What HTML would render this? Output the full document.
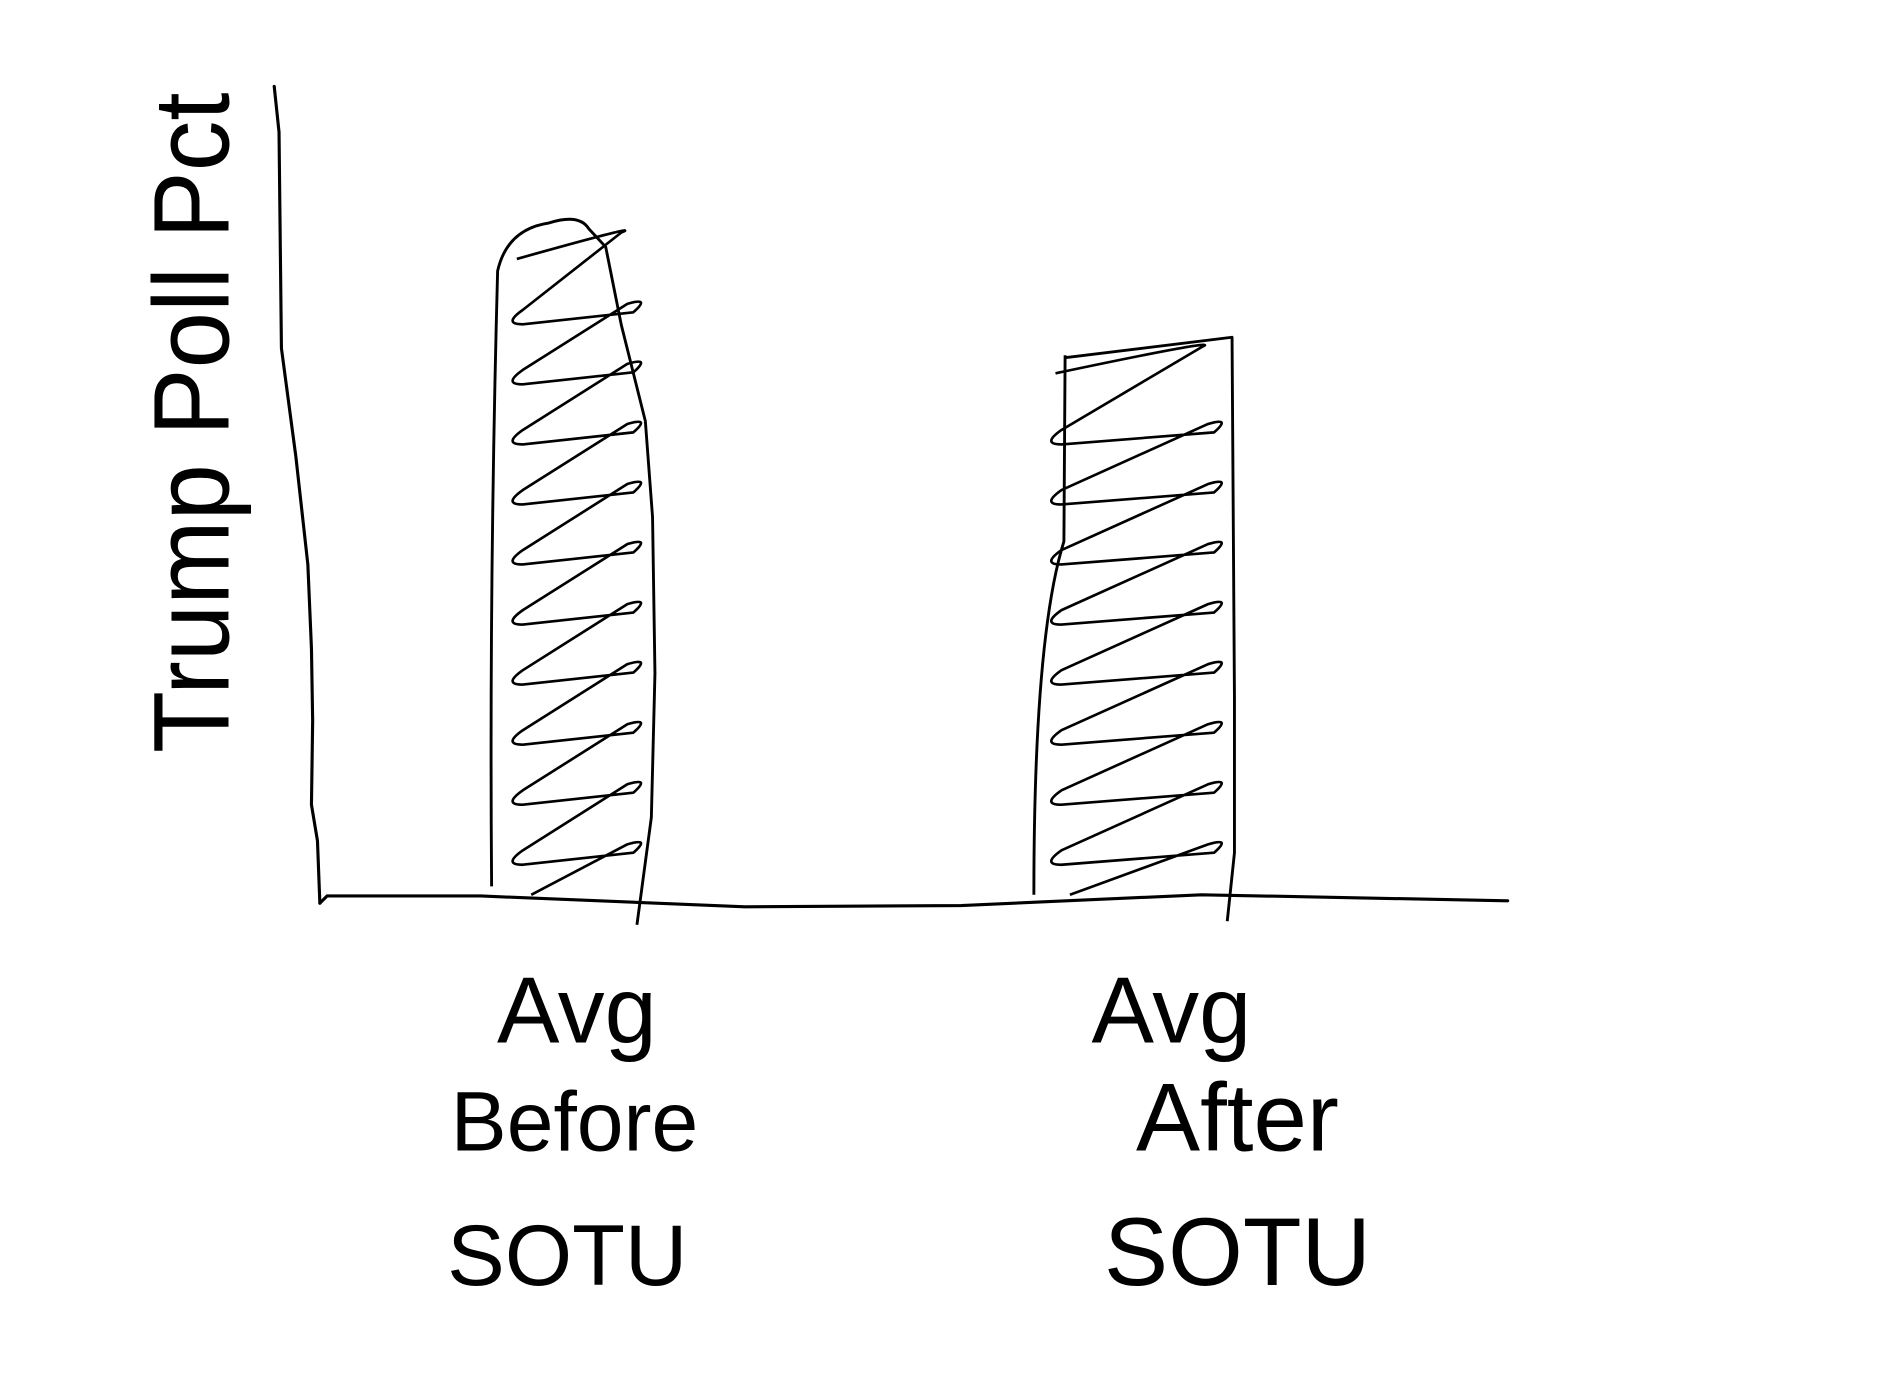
<!DOCTYPE html>
<html><head><meta charset="utf-8"><style>
html,body{margin:0;padding:0;background:#fff;}
svg{display:block;}
text{font-family:"Liberation Sans",sans-serif;fill:#000;stroke:none;font-weight:normal;}
</style></head><body>
<svg id="chart" width="1884" height="1386" viewBox="0 0 1568 1154" xmlns="http://www.w3.org/2000/svg">
<g id="axes" fill="none" stroke="#000" stroke-width="2.6" stroke-linecap="round">
<path d="M228,72 L232,110 L234,290 L246,380 L256,470 L259,540 L260,600 L259,670 L264,700 L266,752"/>
<path d="M266,752 L272,746 L400,746 L620,755 L800,754 L1000,745 L1255,750"/>
</g>
<g id="bars"></g>
<text transform="translate(190,352) rotate(-90)" text-anchor="middle" textLength="550" lengthAdjust="spacingAndGlyphs" font-size="90">Trump Poll Pct</text>
<g id="xlabels"></g>
</svg>
<script>
const categories = ["Avg Before SOTU", "Avg After SOTU"];
const labelLines = [["Avg","Before","SOTU"],["Avg","After","SOTU"]];
const values = [83, 69];

const NS = "http://www.w3.org/2000/svg";
const baseY = 750, topY = 70, maxV = 100;
function yScale(v){ return baseY - (v/maxV)*(baseY-topY); }
const xCenters = [477, 943];
const barWs = [130, 165];
function xScale(i){ return xCenters[i]; }
const labelX = [[480,478,472],[975,1030,1030]];
const labelFs = [[78,70,72],[78,80,80]];

const barsG = document.getElementById('bars');
const labelsG = document.getElementById('xlabels');
values.forEach((v,i)=>{
  const cx = xScale(i), yt = yScale(v), barW = barWs[i];
  const l = cx - barW/2, r = cx + barW/2;
  const g = document.createElementNS(NS,'g');
  
  
  const outline = document.createElementNS(NS,'path');
  
  
  let od;
  if (i===0) {
    od = `M${l-3},${baseY-12} Q${l-5},${yt+300} ${l+2},${yt+40} Q${l+10},${yt+5} ${l+45},${yt} Q${l+70},${yt-8} ${l+78},${yt+5} L${l+92},${yt+20} L${l+105},${yt+85} L${l+125},${yt+165} L${r+1},${yt+245} L${r+3},${yt+375} L${r},${yt+495} L${r-12},${baseY+20}`;
  } else {
    od = `M${l},${baseY-5} Q${l},${yt+250} ${l+25},${yt+170} L${l+26},${yt+15} M${l+26},${yt+17} L${r},${yt} L${r+2},${yt+300} L${r+2},${baseY-40} L${r-4},${baseY+17}`;
  }
  outline.setAttribute('d', od);
  outline.setAttribute('fill','none');
  outline.setAttribute('stroke','#000');
  outline.setAttribute('stroke-width','2.4');
  outline.setAttribute('stroke-linejoin','round');
  barsG.appendChild(g);
  g.appendChild(outline);
  // diagonal zigzag hatching with rounded turns
  const L = l + 18, R = r - 5;
  let d = `M${l+30},${baseY-5}`;
  let y = baseY - 5;
  while (y - 50 > yt + 15) {
    const yr = y - 45;
    d += ` L${R-15},${yr+3} Q${R+5},${yr-3} ${R-10},${yr+10} L${L+5},${yr+20} Q${L-12},${yr+20} ${L+5},${yr+8}`;
    y = yr - 5;
  }
  d += ` L${R-20},${yt+8} Q${R},${yt} ${L},${yt+30}`;
  const hatch = document.createElementNS(NS,'path');
  
  
  hatch.setAttribute('d', d);
  hatch.setAttribute('fill','none');
  hatch.setAttribute('stroke','#000');
  hatch.setAttribute('stroke-width','2.2');
  hatch.setAttribute('stroke-linejoin','round');
  g.appendChild(hatch);
  labelLines[i].forEach((t,j)=>{
    const tx = document.createElementNS(NS,'text');
    
    
    tx.setAttribute('x', labelX[i][j]);
    tx.setAttribute('y', [868, 958, 1070][j]);
    tx.setAttribute('text-anchor','middle');
    tx.setAttribute('font-size', labelFs[i][j]);
    tx.textContent = t;
    labelsG.appendChild(tx);
  });
});
</script>
</body></html>
